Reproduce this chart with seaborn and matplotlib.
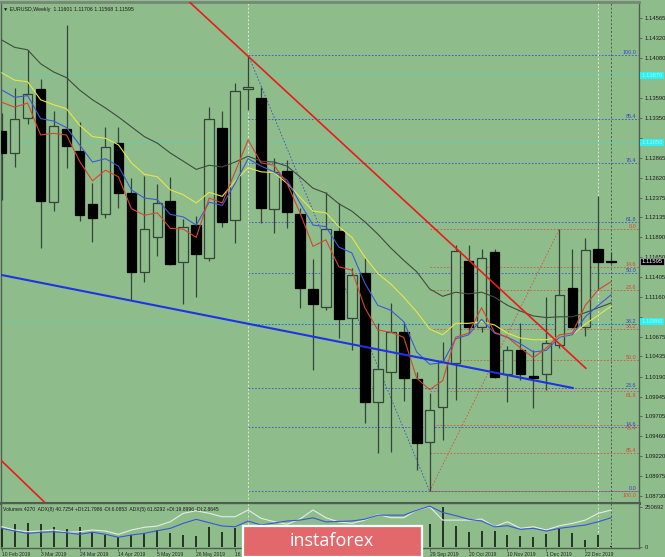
import numpy as np
import pandas as pd
import matplotlib
matplotlib.use("Agg")
import matplotlib.pyplot as plt
import matplotlib.transforms as mtrans
from matplotlib.patches import Rectangle
import seaborn as sns

# weekly EURUSD candles, 10 Feb 2019 .. 5 Jan 2020
opens = [1.1319, 1.1292, 1.1335, 1.1370, 1.1232, 1.1321, 1.1295, 1.1230, 1.1218, 1.1304,
         1.1243, 1.1147, 1.1190, 1.1233, 1.1159, 1.1204, 1.1164, 1.1323, 1.1210, 1.13702,
         1.1359, 1.1224, 1.1270, 1.1218, 1.1126, 1.1104, 1.1197, 1.1091, 1.1146, 1.0988,
         1.1025, 1.1074, 1.1016, 1.0939, 1.0982, 1.1036, 1.1160, 1.1080, 1.1171, 1.1022,
         1.1052, 1.1020, 1.1022, 1.1058, 1.1127, 1.1080, 1.1175, 1.11601]
highs = [1.1341, 1.1371, 1.1418, 1.1382, 1.1343, 1.1448, 1.1330, 1.1255, 1.1324, 1.1324,
         1.1262, 1.1264, 1.1254, 1.1263, 1.1212, 1.1215, 1.1348, 1.1343, 1.1378, 1.1412,
         1.1373, 1.1286, 1.1284, 1.1225, 1.1163, 1.1244, 1.1231, 1.1152, 1.1164, 1.1085,
         1.1109, 1.1086, 1.1025, 1.0999, 1.1061, 1.1180, 1.1180, 1.1175, 1.1175, 1.1056,
         1.1085, 1.1052, 1.1116, 1.1199, 1.1175, 1.1188, 1.1240, 1.11706]
lows = [1.1235, 1.1275, 1.1327, 1.1176, 1.1221, 1.1274, 1.1209, 1.1183, 1.1213, 1.1225,
        1.1113, 1.1135, 1.1166, 1.1155, 1.1108, 1.1116, 1.1160, 1.1202, 1.1182, 1.1345,
        1.1207, 1.1194, 1.1201, 1.1103, 1.1027, 1.1100, 1.1066, 1.1052, 1.0962, 1.0926,
        1.0927, 1.0989, 1.0905, 1.0879, 1.0942, 1.0990, 1.1072, 1.1074, 1.1017, 1.0988,
        1.1015, 1.0981, 1.1003, 1.1054, 1.1078, 1.1069, 1.1125, 1.11568]
closes = [1.1292, 1.1334, 1.1364, 1.1233, 1.1325, 1.1301, 1.1216, 1.1213, 1.1299, 1.1243,
          1.1147, 1.1199, 1.1231, 1.1157, 1.1202, 1.1169, 1.1334, 1.1208, 1.1368, 1.13726,
          1.1225, 1.1269, 1.1220, 1.1127, 1.1108, 1.1199, 1.1089, 1.1143, 1.0988, 1.1028,
          1.1074, 1.1017, 1.0938, 1.0978, 1.1037, 1.1172, 1.1080, 1.1164, 1.1019, 1.1052,
          1.1022, 1.1017, 1.1060, 1.1119, 1.1080, 1.1174, 1.1159, 1.11595]

# moving averages
ma_dark = [1.1430, 1.1421, 1.1418, 1.1401, 1.1391, 1.1384, 1.1369, 1.1357, 1.1347, 1.1336,
           1.1324, 1.1312, 1.1304, 1.1292, 1.1282, 1.1272, 1.1277, 1.1275, 1.1281, 1.1288,
           1.1282, 1.1281, 1.1276, 1.1263, 1.1249, 1.1243, 1.1230, 1.1221, 1.1208, 1.1193,
           1.1176, 1.1161, 1.1147, 1.1126, 1.1117, 1.1122, 1.1120, 1.1122, 1.1116, 1.1106,
           1.1099, 1.1093, 1.1091, 1.1092, 1.1092, 1.1097, 1.1103, 1.1109]
ma_yellow = [1.1390, 1.1381, 1.1379, 1.1357, 1.1351, 1.1346, 1.1326, 1.1312, 1.1310, 1.1302,
             1.1280, 1.1266, 1.1263, 1.1247, 1.1241, 1.1231, 1.1244, 1.1239, 1.1258, 1.1274,
             1.1269, 1.1268, 1.1255, 1.1238, 1.1221, 1.1219, 1.1202, 1.1189, 1.1165, 1.1145,
             1.1132, 1.1116, 1.1098, 1.1077, 1.1070, 1.1084, 1.1084, 1.1086, 1.1082, 1.1072,
             1.1066, 1.1064, 1.1064, 1.1067, 1.1070, 1.1083, 1.1094, 1.1105]
ma_blue = [1.1369, 1.1360, 1.1362, 1.1334, 1.1331, 1.1323, 1.1302, 1.1281, 1.1285, 1.1276,
           1.1247, 1.1237, 1.1235, 1.1217, 1.1214, 1.1204, 1.1232, 1.1228, 1.1255, 1.1285,
           1.1276, 1.1269, 1.1259, 1.1231, 1.1204, 1.1202, 1.1177, 1.1170, 1.1133, 1.1106,
           1.1100, 1.1086, 1.1049, 1.1034, 1.1036, 1.1065, 1.1070, 1.1089, 1.1072, 1.1067,
           1.1059, 1.1049, 1.1051, 1.1067, 1.1070, 1.1092, 1.1106, 1.1119]
ma_red = [1.1354, 1.1348, 1.1353, 1.1314, 1.1316, 1.1314, 1.1282, 1.1258, 1.1271, 1.1263,
          1.1224, 1.1216, 1.1219, 1.1200, 1.1199, 1.1189, 1.1237, 1.1231, 1.1269, 1.1308,
          1.1280, 1.1277, 1.1255, 1.1219, 1.1178, 1.1186, 1.1153, 1.1149, 1.1103, 1.1076,
          1.1073, 1.1067, 1.1017, 1.1003, 1.1014, 1.1067, 1.1072, 1.1103, 1.1073, 1.1067,
          1.1054, 1.1042, 1.1054, 1.1070, 1.1072, 1.1106, 1.1125, 1.1135]

volumes = [119000, 144000, 150000, 144000, 125000, 113000, 125000, 94000, 75000, 63000,
           75000, 88000, 107000, 88000, 75000, 69000, 125000, 94000, 119000, 115000,
           95000, 100000, 90000, 120000, 125000, 105000, 95000, 100000, 130000, 115000,
           120000, 105000, 140000, 144000, 250692, 133000, 94000, 100000, 100000, 75000,
           71000, 65000, 81000, 111000, 86000, 44000, 75000, 4270]
adx_fast = [47.3, 40.0, 36.2, 37.7, 40.0, 34.9, 36.2, 40.0, 37.7, 30.4,
            40.0, 46.0, 48.8, 58.4, 77.0, 82.8, 77.0, 69.5, 69.5, 84.4,
            66.0, 58.4, 52.6, 64.4, 84.4, 67.3, 57.7, 54.8, 62.0, 74.8,
            67.3, 67.3, 84.4, 91.7, 62.0, 62.0, 62.0, 64.4, 47.3, 58.4,
            43.7, 47.3, 40.0, 49.5, 54.8, 62.0, 77.0, 84.4]
adx_slow = [43.7, 37.7, 32.6, 34.9, 36.2, 34.0, 30.4, 34.9, 30.4, 23.8,
            28.9, 32.6, 38.4, 43.7, 54.8, 63.7, 56.2, 48.8, 47.3, 59.9,
            51.1, 55.5, 60.0, 62.0, 67.0, 58.0, 59.0, 60.0, 64.0, 73.0,
            73.0, 73.0, 84.0, 93.0, 79.0, 72.0, 64.0, 60.0, 47.0, 49.5,
            41.5, 43.7, 37.7, 43.7, 47.3, 51.0, 58.4, 67.3]

price_ticks = [1.14565, 1.14320, 1.14080, 1.13835, 1.13590, 1.13350, 1.13105, 1.12865,
               1.12620, 1.12375, 1.12135, 1.11890, 1.11650, 1.11405, 1.11160, 1.10920,
               1.10675, 1.10435, 1.10190, 1.09945, 1.09705, 1.09460, 1.09220, 1.08975, 1.08730]
date_pos = [0, 3, 6, 9, 12, 15, 18, 21, 24, 27, 30, 33, 36, 39, 42, 45]
date_labels = ["10 Feb 2019", "3 Mar 2019", "24 Mar 2019", "14 Apr 2019", "5 May 2019",
               "26 May 2019", "16 Jun 2019", "7 Jul 2019", "28 Jul 2019", "18 Aug 2019",
               "8 Sep 2019", "29 Sep 2019", "20 Oct 2019", "10 Nov 2019", "1 Dec 2019",
               "22 Dec 2019"]

# drawn objects
blue_fib_names = ["100.0", "85.4", "76.4", "61.8", "50.0", "38.2", "23.6", "14.6", "0.0"]
blue_fib_prices = [1.1412, 1.1334, 1.1280, 1.1208, 1.1145, 1.1083, 1.1005, 1.0957, 1.0879]
red_fib_names = ["0.0", "14.6", "23.6", "38.2", "50.0", "61.8", "76.4", "85.4", "100.0"]
red_fib_prices = [1.1199, 1.1153, 1.1125, 1.1077, 1.1039, 1.1001, 1.0960, 1.0926, 1.0879]
cyan_levels = [1.1387, 1.1305, 1.1086]
red_trend_x, red_trend_y = [14.5, 45.05], [1.1476, 1.1029]
red_trend2_x, red_trend2_y = [-0.2, 3.6], [1.0919, 1.0861]
blue_trend_x, blue_trend_y = [0.0, 44.05], [1.1143, 1.1005]
blue_fib_x, blue_fib_y = [19, 33], [1.1412, 1.0879]
red_fib_x, red_fib_y = [33, 43], [1.0879, 1.1199]

W, H = 665, 557
BG = "#8FBC8B"
FRAME = "#4f5f4f"
WICK = "#34443a"

sns.set_style("ticks")
plt.rcParams["font.family"] = ["Liberation Sans", "DejaVu Sans"]
plt.rcParams["font.size"] = 3.9

fig = plt.figure(figsize=(W / 100, H / 100), dpi=100)
fig.patch.set_facecolor(BG)


def box(x0, y0, x1, y1):
    return [x0 / W, 1 - y1 / H, (x1 - x0) / W, (y1 - y0) / H]


ax = fig.add_axes(box(1, 2, 639, 503))
axv = fig.add_axes(box(1, 503, 639, 548), sharex=ax)
for a in (ax, axv):
    a.set_facecolor(BG)
    for s in a.spines.values():
        s.set_color(FRAME)
        s.set_linewidth(1.0)
ax.spines["bottom"].set_linewidth(2.2)
ax.spines["top"].set_color("#778777")
ax.spines["top"].set_linewidth(2)

df = pd.DataFrame(dict(i=np.arange(len(opens)), o=opens, h=highs, l=lows, c=closes,
                       dark=ma_dark, yellow=ma_yellow, blue=ma_blue, red=ma_red,
                       vol=volumes, adx1=adx_fast, adx2=adx_slow))
up = df.c >= df.o

# reference lines
for p in cyan_levels:
    ax.axhline(p, color="#46d8cc", lw=0.6, ls=(0, (2, 2)), zorder=1)
for p in blue_fib_prices:
    ax.plot([19, 49.5], [p, p], color="#3c50c8", lw=0.6, ls=(0, (2, 2)), zorder=1)
for p in red_fib_prices:
    ax.plot([33, 49.5], [p, p], color="#d0553e", lw=0.6, ls=(0, (2, 2)), zorder=1)
ax.plot(blue_fib_x, blue_fib_y, color="#3c50c8", lw=0.6, ls=(0, (2, 2)), zorder=1)
ax.plot(red_fib_x, red_fib_y, color="#d0553e", lw=0.6, ls=(0, (2, 2)), zorder=1)
for a in (ax, axv):
    a.axvline(19, color="#dde8dd", lw=0.7, ls=(0, (2, 2)), zorder=1)
    a.axvline(46, color="#dde8dd", lw=0.7, ls=(0, (2, 2)), zorder=1)
    a.axvline(47, color="#4d5d4d", lw=0.7, ls=(0, (2, 2)), zorder=1)

# candles
ax.vlines(df.i, df.l, df.h, color=WICK, lw=0.9, zorder=3)
ax.bar(df.i[up], (df.c - df.o)[up], bottom=df.o[up], width=0.74,
       facecolor=BG, edgecolor=WICK, lw=0.9, zorder=4)
ax.bar(df.i[~up], (df.o - df.c)[~up], bottom=df.c[~up], width=0.74,
       facecolor="black", edgecolor="black", lw=0.9, zorder=4)

# moving averages
for col, clr in [("dark", "#3f4c3f"), ("yellow", "#e6e64a"), ("blue", "#3b5bd6"), ("red", "#d8452f")]:
    sns.lineplot(data=df, x="i", y=col, ax=ax, color=clr, lw=0.8, zorder=5)

# trend lines
ax.plot(red_trend_x, red_trend_y, color="#e81c1c", lw=1.2, zorder=6)
ax.plot(red_trend2_x, red_trend2_y, color="#e81c1c", lw=1.2, zorder=6)
ax.plot(blue_trend_x, blue_trend_y, color="#1f33e6", lw=1.5, zorder=6)

ax.set_xlim(-0.054, 49.14)
ax.set_ylim(1.08646, 1.14764)
ax.set_xlabel("")
ax.set_ylabel("")
ax.yaxis.tick_right()
ax.set_yticks(price_ticks)
# labels that sit under a cyan level box are hidden by it in the terminal
ax.set_yticklabels(["" if min(abs(p - c) for c in cyan_levels) < 0.0006 else f"{p:.5f}"
                    for p in price_ticks])
ax.tick_params(axis="y", length=2.5, width=0.6, color=FRAME, labelsize=4.2, pad=1.5, labelcolor="#1a1a1a")
ax.tick_params(axis="x", bottom=False, labelbottom=False)

# fib level names: blue sits above its line, red drops below when the two crowd
lab = mtrans.blended_transform_factory(ax.transAxes, ax.transData)
nudge = mtrans.ScaledTranslation(0, -1.5 / 100, fig.dpi_scale_trans)
for n, p in zip(blue_fib_names, blue_fib_prices):
    ax.text(0.996, p, n, transform=lab, ha="right", va="bottom", color="#3347c8", fontsize=3.9, zorder=7)
for n, p in zip(red_fib_names, red_fib_prices):
    crowded = min(abs(p - b) for b in blue_fib_prices) < 0.0006
    ax.text(0.996, p, n, transform=lab + nudge if crowded else lab, ha="right",
            va="top" if crowded else "bottom", color="#d24a36", fontsize=3.9, zorder=7)

# right axis boxes
for p in cyan_levels:
    ax.text(1.004, p, f"{p:.5f}", transform=lab, ha="left", va="center", fontsize=4.2,
            color="#9ff6f6", zorder=8, clip_on=False,
            bbox=dict(boxstyle="square,pad=0.2", fc="#2ff0f0", ec="none"))
ax.text(1.004, closes[-1], f"{closes[-1]:.5f}", transform=lab, ha="left", va="center",
        fontsize=4.2, color="white", zorder=8, clip_on=False,
        bbox=dict(boxstyle="square,pad=0.2", fc="black", ec="#cccccc", lw=0.4))

# volume panel with ADX lines on a twin scale
axv.vlines(df.i, 0, df.vol, color="#1b2a1b", lw=1.3, zorder=3)
axa = axv.twinx()
sns.lineplot(data=df, x="i", y="adx1", ax=axa, color="#e4ede4", lw=0.8, zorder=4)
sns.lineplot(data=df, x="i", y="adx2", ax=axa, color="#3a56d8", lw=0.8, zorder=5)
axa.set_ylim(0, 100)
axa.set_yticks([])
axa.set_ylabel("")
for s in axa.spines.values():
    s.set_visible(False)

axv.set_ylim(-6267, 275761)
axv.yaxis.tick_right()
axv.yaxis.set_label_position("right")
axv.set_yticks([0, 250692])
axv.set_yticklabels(["0", "250692"])
axv.tick_params(axis="y", left=False, labelleft=False, right=True, labelright=True,
                length=2.5, width=0.6, color=FRAME, labelsize=4.2, pad=1.5)
axv.set_xticks(date_pos)
axv.set_xticklabels(date_labels, ha="left")
axv.tick_params(axis="x", length=2, width=0.6, color=FRAME, labelsize=3.6, pad=1.2)
axv.set_ylabel("")
axv.set_xlabel("")

fig.text(3 / W, 1 - 9 / H, "\u25bc EURUSD,Weekly  1.11601 1.11706 1.11568 1.11595",
         fontsize=3.8, va="center", ha="left", color="#1a1a1a")
fig.text(3 / W, 1 - 510 / H,
         "Volumes 4270  ADX(8) 40.7254 +DI:21.7986 -DI:6.0853  ADX(5) 61.8292 +DI:19.8996 -DI:2.8645",
         fontsize=3.6, va="center", ha="left", color="#1a1a1a")

# watermark logo
fig.add_artist(Rectangle((243 / W, 0), (422 - 243) / W, (557 - 526) / H, transform=fig.transFigure,
                         facecolor="#e2686b", edgecolor="white", lw=1.6, zorder=20))
fig.text(332 / W, 1 - 541 / H, "instaforex", fontsize=13, color="white", ha="center", va="center",
         family=["Open Sans", "DejaVu Sans"], zorder=21)

fig.savefig("out.png", dpi=100, facecolor=BG)
